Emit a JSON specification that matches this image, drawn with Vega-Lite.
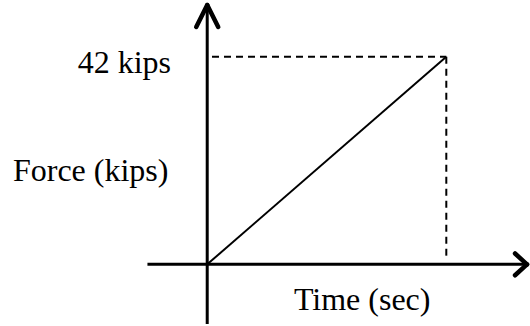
{
  "$schema": "https://vega.github.io/schema/vega-lite/v6.json",
  "width": 530,
  "height": 326,
  "autosize": {"type": "fit", "contains": "padding"},
  "padding": 0,
  "background": "white",
  "config": {"view": {"stroke": null}},
  "datasets": {
    "axes": [
      {"x": -0.25, "y": 0, "x2": 1.3375, "y2": 0},
      {"x": 0, "y": -12.06, "x2": 0, "y2": 52.45}
    ],
    "arrows": [
      {"x": -0.046, "y": 48.0, "x2": 0, "y2": 52.45},
      {"x": 0.046, "y": 48.0, "x2": 0, "y2": 52.45},
      {"x": 1.2875, "y": 2.2, "x2": 1.3375, "y2": 0},
      {"x": 1.2875, "y": -2.2, "x2": 1.3375, "y2": 0}
    ],
    "force": [
      {"time": 0, "force": 0},
      {"time": 1, "force": 42}
    ],
    "guides": [
      {"x": 0.02, "y": 42, "x2": 1, "y2": 42},
      {"x": 1, "y": 42, "x2": 1, "y2": 1.4}
    ],
    "labels": [
      {"label": "42 kips", "x": -0.5417, "y": 38.79},
      {"label": "Force (kips)", "x": -0.8125, "y": 16.88},
      {"label": "Time (sec)", "x": 0.3625, "y": -9.24}
    ]
  },
  "layer": [
    {
      "data": {"name": "axes"},
      "mark": {"type": "rule", "strokeWidth": 3, "color": "black"},
      "encoding": {
        "x": {"field": "x", "type": "quantitative", "scale": {"domain": [-0.8667, 1.3417], "nice": false, "zero": false}, "axis": null},
        "y": {"field": "y", "type": "quantitative", "scale": {"domain": [-12.06, 53.46], "nice": false, "zero": false}, "axis": null},
        "x2": {"field": "x2"},
        "y2": {"field": "y2"}
      }
    },
    {
      "data": {"name": "arrows"},
      "mark": {"type": "rule", "strokeWidth": 4.5, "color": "black", "strokeCap": "round"},
      "encoding": {
        "x": {"field": "x", "type": "quantitative"},
        "y": {"field": "y", "type": "quantitative"},
        "x2": {"field": "x2"},
        "y2": {"field": "y2"}
      }
    },
    {
      "data": {"name": "force"},
      "mark": {"type": "line", "strokeWidth": 2, "color": "black"},
      "encoding": {
        "x": {"field": "time", "type": "quantitative"},
        "y": {"field": "force", "type": "quantitative"}
      }
    },
    {
      "data": {"name": "guides"},
      "mark": {"type": "rule", "strokeWidth": 2, "color": "black", "strokeDash": [7, 5]},
      "encoding": {
        "x": {"field": "x", "type": "quantitative"},
        "y": {"field": "y", "type": "quantitative"},
        "x2": {"field": "x2"},
        "y2": {"field": "y2"}
      }
    },
    {
      "data": {"name": "labels"},
      "mark": {"type": "text", "font": "Liberation Serif", "fontSize": 32, "align": "left", "baseline": "alphabetic", "color": "black"},
      "encoding": {
        "x": {"field": "x", "type": "quantitative"},
        "y": {"field": "y", "type": "quantitative"},
        "text": {"field": "label"}
      }
    }
  ]
}
